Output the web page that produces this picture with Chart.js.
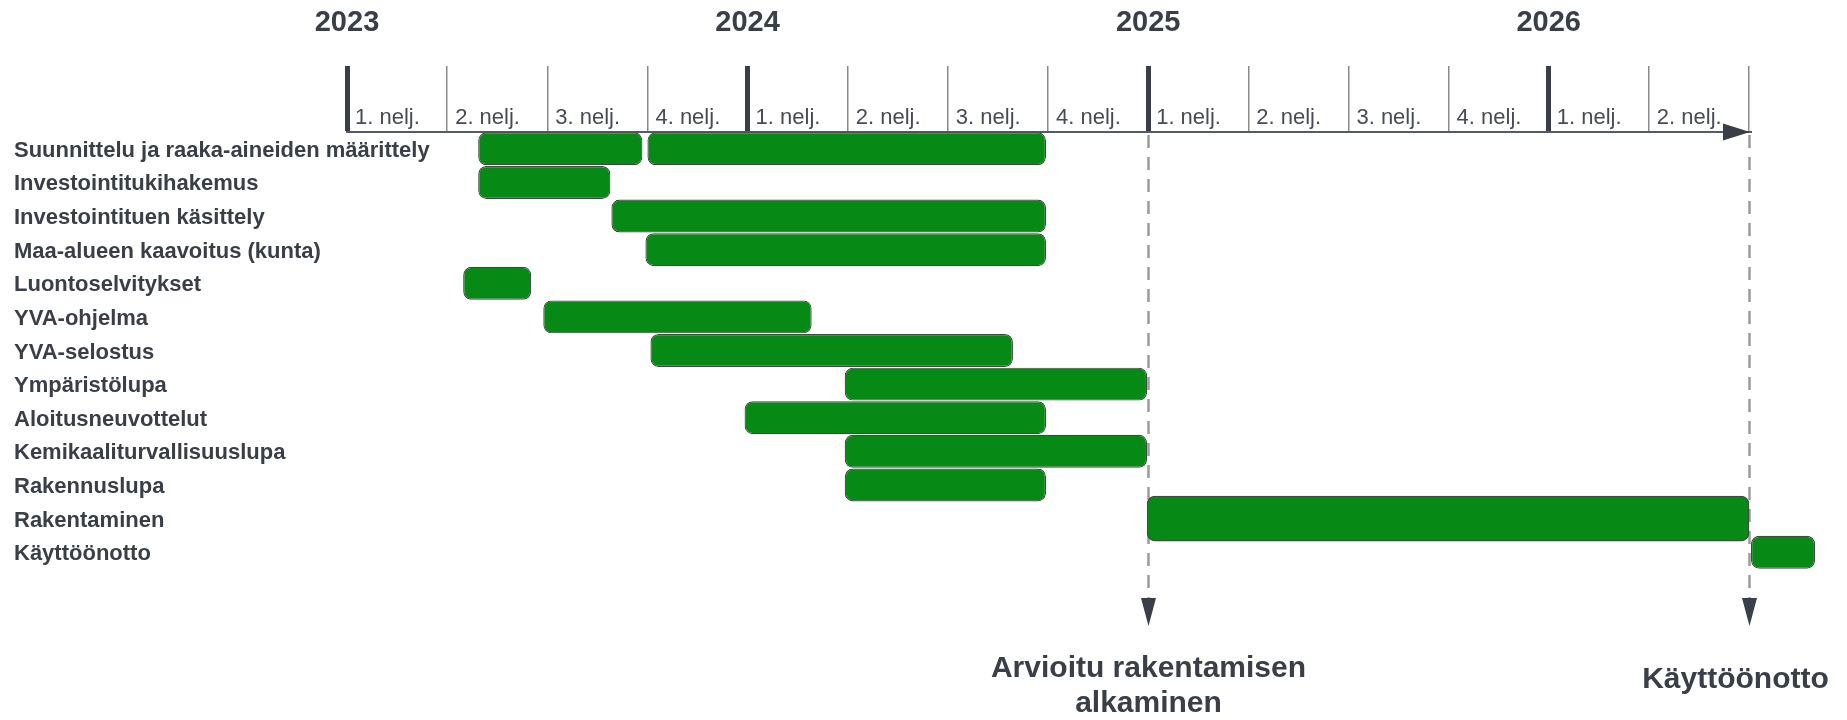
<!DOCTYPE html>
<html>
<head>
<meta charset="utf-8">
<script src="https://cdn.jsdelivr.net/npm/chart.js@4.4.1/dist/chart.umd.min.js"></script>
<style>
  html, body { margin: 0; padding: 0; background: #ffffff; }
  #wrap { width: 1847px; height: 720px; }
</style>
</head>
<body>
<div id="wrap"><canvas id="gantt" width="1847" height="720"></canvas></div>
<script>
// rivit (tehtävät)
var tasks = [
  'Suunnittelu ja raaka-aineiden määrittely',
  'Investointitukihakemus',
  'Investointituen käsittely',
  'Maa-alueen kaavoitus (kunta)',
  'Luontoselvitykset',
  'YVA-ohjelma',
  'YVA-selostus',
  'Ympäristölupa',
  'Aloitusneuvottelut',
  'Kemikaaliturvallisuuslupa',
  'Rakennuslupa',
  'Rakentaminen',
  'Käyttöönotto'
];
// alku ja loppu vuosineljänneksinä 2023 alusta
var taskStart = [1.31, 1.31, 2.64, 2.98, 1.16, 1.96, 3.03, 4.97, 3.97, 4.97, 4.97, null, 14.02];
var taskEnd   = [2.95, 2.63, 6.98, 6.98, 1.84, 4.64, 6.65, 7.99, 6.98, 7.99, 6.98, null, 14.66];
// suunnittelun toinen jakso
var phase2Start = 3.0;
var phase2End = 6.98;
// rakentaminen (paksumpi palkki)
var buildStart = 7.99;
var buildEnd = 14.0;

var quarterTicks = ['1. nelj.', '2. nelj.', '3. nelj.', '4. nelj.',
                    '1. nelj.', '2. nelj.', '3. nelj.', '4. nelj.',
                    '1. nelj.', '2. nelj.', '3. nelj.', '4. nelj.',
                    '1. nelj.', '2. nelj.', ''];
var years = ['2023', '2024', '2025', '2026'];
var yearTicks = [0, 4, 8, 12];

// virstanpylväät
var milestoneAt = [8, 14];
var milestoneText = [['Arvioitu rakentamisen', 'alkaminen'], ['Käyttöönotto']];

var green = '#068a15';
var edge = '#3e4a40';
var dark = '#3a3f47';
var fontName = "'Liberation Sans', Arial, sans-serif";

document.addEventListener('DOMContentLoaded', function() {

  var mainData = [];
  var phase2Data = [];
  var buildData = [];
  for (let i = 0; i < tasks.length; i++) {
    mainData.push(taskStart[i] === null ? null : [taskStart[i], taskEnd[i]]);
    phase2Data.push(i === 0 ? [phase2Start, phase2End] : null);
    buildData.push(tasks[i] === 'Rakentaminen' ? [buildStart, buildEnd] : null);
  }

  var barStyle = {
    backgroundColor: green,
    borderColor: edge,
    borderWidth: 1.2,
    borderRadius: 8,
    borderSkipped: false,
    grouped: false,
    clip: false,
    barPercentage: 1,
    categoryPercentage: 0.98
  };

  // katkoviivat, nuolet ja tekstit
  var decor = {
    id: 'decor',
    beforeDatasetsDraw: function(chart) {
      var c = chart.ctx;
      var x = chart.scales.x;
      var top = chart.chartArea.top;
      c.save();
      c.strokeStyle = '#9c9c9c';
      c.lineWidth = 2.5;
      c.setLineDash([13, 9]);
      for (let m of milestoneAt) {
        var px = Math.round(x.getPixelForValue(m)) + 0.5;
        c.beginPath();
        c.moveTo(px, top + 3);
        c.lineTo(px, 598);
        c.stroke();
      }
      c.restore();
    },
    afterDraw: function(chart) {
      var c = chart.ctx;
      var x = chart.scales.x;
      var top = chart.chartArea.top;
      c.save();
      c.fillStyle = dark;
      // akselin nuoli
      var ex = x.getPixelForValue(14);
      c.beginPath();
      c.moveTo(ex + 1, top);
      c.lineTo(ex - 26, top - 8.5);
      c.lineTo(ex - 26, top + 8.5);
      c.closePath();
      c.fill();
      // alas osoittavat nuolet ja tekstit
      c.font = 'bold 30px ' + fontName;
      c.textAlign = 'center';
      c.textBaseline = 'middle';
      for (let k = 0; k < milestoneAt.length; k++) {
        var px = Math.round(x.getPixelForValue(milestoneAt[k])) + 0.5;
        c.beginPath();
        c.moveTo(px - 7.5, 598);
        c.lineTo(px + 7.5, 598);
        c.lineTo(px, 626);
        c.closePath();
        c.fill();
        var lines = milestoneText[k];
        var tx = k === milestoneAt.length - 1 ? px - 14 : px;
        var ty = lines.length > 1 ? 669 : 680;
        for (let j = 0; j < lines.length; j++) {
          c.fillText(lines[j], tx, ty + j * 35);
        }
      }
      c.restore();
    }
  };

  var ctx = document.querySelector('#gantt').getContext('2d');
  var chart = new Chart(ctx, {
    type: 'bar',
    data: {
      labels: tasks,
      datasets: [
        Object.assign({ label: 'main', data: mainData }, barStyle),
        Object.assign({ label: 'phase2', data: phase2Data }, barStyle),
        Object.assign({ label: 'build', data: buildData, barThickness: 45 }, barStyle)
      ]
    },
    options: {
      indexAxis: 'y',
      responsive: false,
      animation: false,
      layout: { padding: { left: 14, right: 98, top: 0, bottom: 151 } },
      plugins: {
        legend: { display: false },
        tooltip: { enabled: false }
      },
      scales: {
        x: {
          type: 'linear',
          position: 'top',
          min: 0,
          max: 14,
          weight: 0,
          afterFit: function(s) { s.height = 88; },
          grid: {
            drawOnChartArea: false,
            drawTicks: true,
            tickLength: 66,
            color: function(c) {
              return (c.tick && yearTicks.indexOf(c.tick.value) >= 0) ? dark : '#8a8a8a';
            },
            lineWidth: function(c) {
              return (c.tick && yearTicks.indexOf(c.tick.value) >= 0) ? 5 : 1.5;
            }
          },
          border: { display: true, color: '#555b64', width: 2 },
          ticks: {
            stepSize: 1,
            autoSkip: false,
            maxRotation: 0,
            align: 'start',
            labelOffset: 8,
            padding: -65,
            color: '#474c54',
            font: { family: fontName, size: 22 },
            callback: function(v) { return quarterTicks[v]; }
          }
        },
        x2: {
          type: 'linear',
          position: 'top',
          min: 0,
          max: 14,
          weight: 1,
          afterFit: function(s) { s.height = 44; },
          afterBuildTicks: function(s) {
            s.ticks = yearTicks.map(function(v) { return { value: v }; });
          },
          grid: { display: false, drawTicks: false },
          border: { display: false },
          ticks: {
            autoSkip: false,
            maxRotation: 0,
            padding: 4,
            color: dark,
            font: { family: fontName, size: 29, weight: 'bold' },
            callback: function(v) { return years[yearTicks.indexOf(v)]; }
          }
        },
        y: {
          type: 'category',
          position: 'left',
          afterFit: function(s) { s.width = 333; },
          grid: { display: false },
          border: { display: false },
          ticks: {
            // mirror, jotta pitkä nimi ei leikkaudu akselin reunaan
            mirror: true,
            crossAlign: 'near',
            padding: -333,
            labelOffset: 2,
            autoSkip: false,
            color: dark,
            font: { family: fontName, size: 22, weight: 'bold' }
          }
        }
      }
    },
    plugins: [decor]
  });
});
</script>
</body>
</html>
